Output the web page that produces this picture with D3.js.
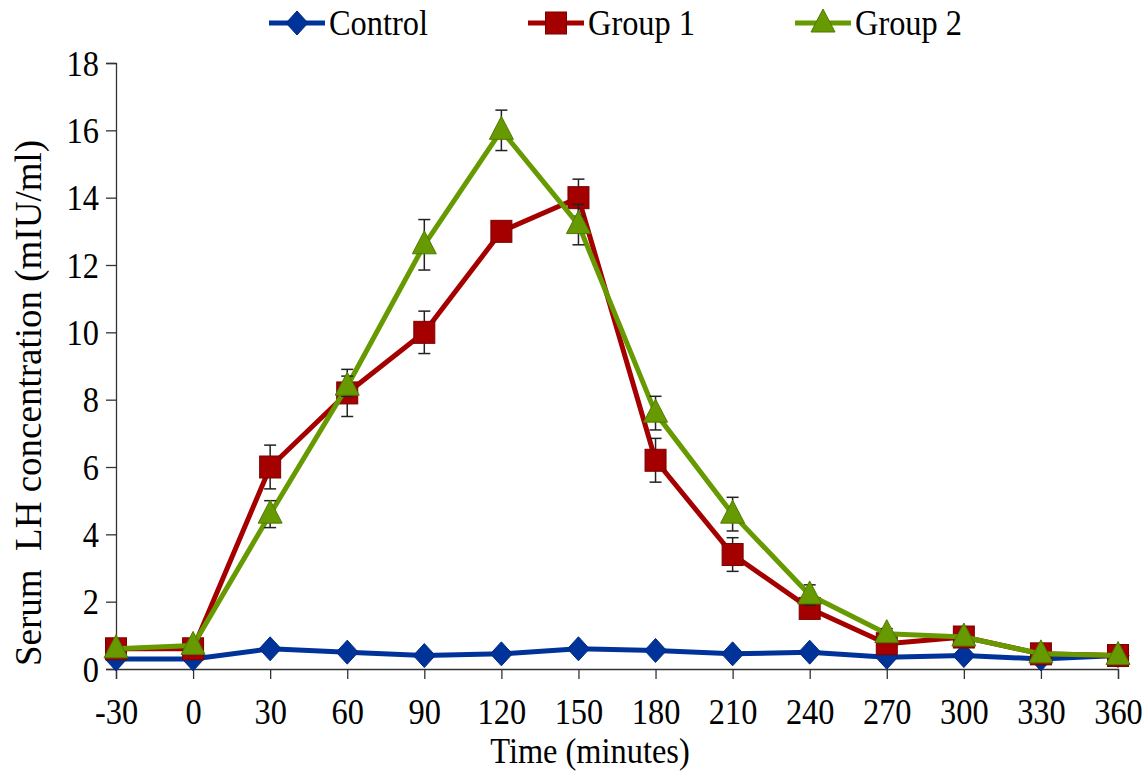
<!DOCTYPE html>
<html>
<head>
<meta charset="utf-8">
<script src="https://cdn.jsdelivr.net/npm/d3@7"></script>
</head>
<body style="margin:0; background:#fff">
<svg id="chart" width="1146" height="772"></svg>
<script>
"use strict";

// time points (minutes)
var times = ["-30", "0", "30", "60", "90", "120", "150", "180", "210", "240", "270", "300", "330", "360"];
var yTicks = [0, 2, 4, 6, 8, 10, 12, 14, 16, 18];

// serum LH (mIU/ml)
var control = [0.3, 0.3, 0.6, 0.5, 0.4, 0.45, 0.6, 0.55, 0.45, 0.5, 0.35, 0.4, 0.3, 0.4];
var group1 = [0.6, 0.6, 6.0, 8.2, 10.0, 13.0, 14.0, 6.2, 3.4, 1.8, 0.75, 0.95, 0.45, 0.4];
var group2 = [0.6, 0.7, 4.6, 8.4, 12.6, 16.0, 13.2, 7.6, 4.6, 2.2, 1.05, 0.95, 0.45, 0.4];

// error (±)
var controlErr = [0, 0, 0, 0, 0, 0, 0, 0, 0, 0, 0, 0, 0, 0];
var group1Err = [0, 0, 0.65, 0.7, 0.63, 0, 0.55, 0.65, 0.5, 0.3, 0.15, 0.15, 0, 0];
var group2Err = [0, 0, 0.4, 0.3, 0.75, 0.6, 0.6, 0.5, 0.5, 0.3, 0.15, 0.1, 0, 0];

var seriesNames = ["Control", "Group 1", "Group 2"];

var series = [
  { name: seriesNames[0], values: control, err: controlErr, color: "#00339a", edge: "#002a80", symbol: "diamond" },
  { name: seriesNames[1], values: group1, err: group1Err, color: "#a50000", edge: "#7a0000", symbol: "square" },
  { name: seriesNames[2], values: group2, err: group2Err, color: "#669a00", edge: "#4f7a00", symbol: "triangle" }
];

var FONT = "'Liberation Serif'";
var FS = 36;      // font size
var SQ = 0.9;     // horizontal squeeze of the original

var svg = d3.select("#chart");

var x = d3.scalePoint().domain(times).range([116, 1118]);
var y = d3.scaleLinear().domain([0, 18]).range([669, 63]);

// marker shapes
function marker(sel, symbol, color, edge) {
  if (symbol === "diamond") {
    sel.append("path").attr("d", "M0,-12L11,0L0,12L-11,0Z");
  } else if (symbol === "square") {
    sel.append("rect").attr("x", -10.5).attr("y", -11).attr("width", 21).attr("height", 22);
  } else {
    sel.append("path").attr("d", "M0,-14L12,9L-12,9Z");
  }
  sel.selectAll("path,rect").attr("fill", color).attr("stroke", edge).attr("stroke-width", 1);
}

// squeezed text at (px, py)
function label(parent, px, py, txt, anchor) {
  return parent.append("text")
    .attr("transform", "translate(" + px + "," + py + ") scale(" + SQ + ",1)")
    .attr("text-anchor", anchor || "start")
    .attr("font-size", FS)
    .style("font-family", FONT)
    .attr("fill", "#000")
    .text(txt);
}

// axes
var yAxis = svg.append("g")
  .attr("transform", "translate(116,0)")
  .call(d3.axisLeft(y).tickValues(yTicks).tickSize(10));
var xAxis = svg.append("g")
  .attr("transform", "translate(0,669)")
  .call(d3.axisBottom(x).tickSize(10));

[yAxis, xAxis].forEach(function(a) {
  a.select(".domain").attr("stroke", "#333").attr("stroke-width", 1.3);
  a.selectAll(".tick line").attr("stroke", "#333").attr("stroke-width", 1.3);
  a.selectAll(".tick text").remove();
});

yAxis.selectAll(".tick").each(function(d) {
  label(d3.select(this), -17, 12, d, "end");
});
xAxis.selectAll(".tick").each(function(d) {
  label(d3.select(this), 0, 55, d, "middle");
});

// axis titles
label(svg, 590, 763, "Time (minutes)", "middle");

svg.append("text")
  .attr("transform", "translate(41,403) rotate(-90)")
  .attr("text-anchor", "middle")
  .attr("font-size", 37)
  .style("font-family", FONT)
  .style("white-space", "pre")
  .text("Serum  LH concentration (mIU/ml)");

// series
series.forEach(function(s) {
  var g = svg.append("g");
  var pts = times.map(function(t, i) { return { t: t, v: s.values[i], e: s.err[i] }; });

  g.append("path")
    .datum(pts)
    .attr("fill", "none")
    .attr("stroke", s.color)
    .attr("stroke-width", 5)
    .attr("stroke-linejoin", "round")
    .attr("d", d3.line().x(function(d) { return x(d.t); }).y(function(d) { return y(d.v); }));

  var eb = g.selectAll(".err").data(pts.filter(function(d) { return d.e > 0; })).enter().append("g");
  eb.append("line")
    .attr("x1", function(d) { return x(d.t); }).attr("x2", function(d) { return x(d.t); })
    .attr("y1", function(d) { return y(d.v - d.e); }).attr("y2", function(d) { return y(d.v + d.e); });
  eb.append("line")
    .attr("x1", function(d) { return x(d.t) - 6; }).attr("x2", function(d) { return x(d.t) + 6; })
    .attr("y1", function(d) { return y(d.v + d.e); }).attr("y2", function(d) { return y(d.v + d.e); });
  eb.append("line")
    .attr("x1", function(d) { return x(d.t) - 6; }).attr("x2", function(d) { return x(d.t) + 6; })
    .attr("y1", function(d) { return y(d.v - d.e); }).attr("y2", function(d) { return y(d.v - d.e); });
  eb.selectAll("line").attr("stroke", "#222").attr("stroke-width", 1.5);

  g.selectAll(".pt").data(pts).enter().append("g")
    .attr("transform", function(d) { return "translate(" + x(d.t) + "," + y(d.v) + ")"; })
    .each(function() { marker(d3.select(this), s.symbol, s.color, s.edge); });
});

// legend
var legendX = [269, 528, 795];
series.forEach(function(s, i) {
  var lg = svg.append("g").attr("transform", "translate(" + legendX[i] + ",23)");
  lg.append("line").attr("x1", 0).attr("x2", 56).attr("y1", 0).attr("y2", 0)
    .attr("stroke", s.color).attr("stroke-width", 5);
  var m = lg.append("g").attr("transform", "translate(28,0)");
  marker(m, s.symbol, s.color, s.edge);
  label(lg, 60, 12, s.name, "start");
});
</script>
</body>
</html>
